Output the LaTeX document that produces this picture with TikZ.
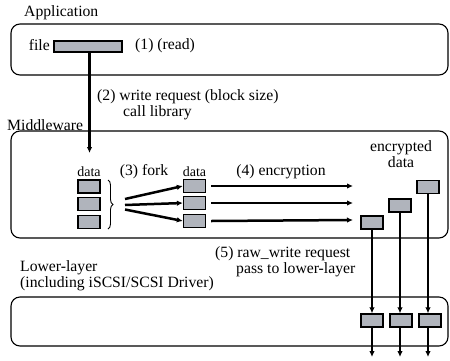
\documentclass[tikz,border=0pt]{standalone}
\usepackage{fontspec}
\setmainfont{Liberation Serif}
\usetikzlibrary{arrows.meta,decorations.pathreplacing}
\definecolor{blk}{RGB}{176,180,188}
\tikzset{
  layer/.style={draw,rounded corners=9pt,line width=1.1pt},
  blkbox/.style={draw,fill=blk,line width=1.3pt,minimum width=22pt,minimum height=13pt,inner sep=0pt},
  lbl/.style={inner sep=0pt,font=\rmfamily\fontsize{15.7}{16}\selectfont},
  small/.style={inner sep=0pt,font=\rmfamily\fontsize{14}{15}\selectfont},
  flow/.style={line width=2.5pt,-{Latex[length=6pt,width=5.5pt]}},
}
\begin{document}
\begin{tikzpicture}[x=1pt,y=-1pt]
\useasboundingbox (0,0) rectangle (450,360);
% layers
\draw[layer] (11,24) rectangle (448,75);
\draw[layer] (11,131) rectangle (448,238);
\draw[layer] (11,297) rectangle (448,346);
\node[lbl,anchor=west] (app) at (24,13) {Application};
\node[lbl,anchor=west] (mid) at (7,125) {Middleware};
\node[lbl,anchor=west,align=left] (low) at (20,276) {Lower-layer\\(including iSCSI/SCSI Driver)};
% file
\node[blkbox,minimum width=68pt,minimum height=11pt] (file) at (88,46.5) {};
\node[lbl,anchor=east] (filet) at (50,45) {file};
\node[lbl,anchor=west] (read) at (135,46) {(1) (read)};
\coordinate (arr2) at (89.5,153);
\draw[flow] (file.south -| arr2) -- (arr2);
\node[lbl,anchor=west,align=left] (wr) at (97,105) {(2) write request (block size)\\\hspace{26pt}call library};
% left data
\node[small] (d1) at (89,172) {data};
\node[blkbox] (l1) at (89,186.5) {};
\node[blkbox] (l2) at (89,204) {};
\node[blkbox] (l3) at (89,222) {};
\draw[line width=0.9pt,decorate,decoration={brace,amplitude=5pt}] (108,180) -- (108,229);
\node[lbl] (fork) at (144,172) {(3) fork};
% middle data
\node[small] (d2) at (194.5,172) {data};
\node[blkbox] (m1) at (194.5,186) {};
\node[blkbox] (m2) at (194.5,203) {};
\node[blkbox] (m3) at (194.5,221) {};
\coordinate (fs1) at (125,199);
\coordinate (fs2) at (125,205);
\coordinate (fs3) at (125,209.5);
\draw[flow] (fs1) -- (m1.west);
\draw[flow] (fs2) -- (m2.west);
\draw[flow] (fs3) -- (m3.west);
\node[lbl] (enc) at (281,172) {(4) encryption};
\coordinate (e1) at (353,186);
\coordinate (e2) at (353,203);
\coordinate (e3) at (353,220);
\draw[flow] ([xshift=5pt]m1.east) -- (e1);
\draw[flow] ([xshift=5pt]m2.east) -- (e2);
\draw[flow] ([xshift=5pt]m3.east) -- (e3);
\node[lbl,align=center] (encd) at (401,154) {encrypted\\data};
% encrypted blocks
\node[blkbox] (c1) at (372,222.5) {};
\node[blkbox] (c2) at (400,205.5) {};
\node[blkbox] (c3) at (428,187) {};
% lower blocks
\node[blkbox] (b1) at (372,320.5) {};
\node[blkbox] (b2) at (401,320.5) {};
\node[blkbox] (b3) at (430,320.5) {};
\draw[flow] (c1.south) -- (b1.north);
\draw[flow] (c2.south) -- (c2.south |- b2.north);
\draw[flow] (c3.south) -- (c3.south |- b3.north);
\coordinate (o1) at (372,357);
\coordinate (o2) at (400,357);
\coordinate (o3) at (428,357);
\draw[flow] (b1.south) -- (o1);
\draw[flow] (b2.south -| o2) -- (o2);
\draw[flow] (b3.south -| o3) -- (o3);
\node[lbl,anchor=west,align=left] (raw) at (215,262) {(5) raw\_write request\\\hspace{21pt}pass to lower-layer};
\end{tikzpicture}
\end{document}
